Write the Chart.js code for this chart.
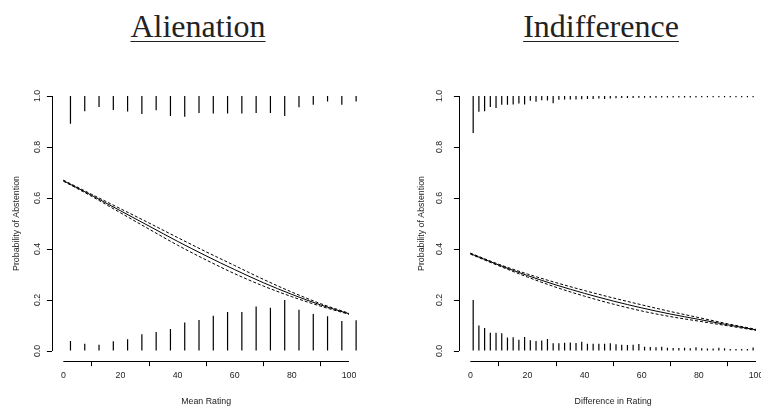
<!DOCTYPE html>
<html>
<head>
  <title>Probability of Abstention</title>
  <script src="https://cdn.jsdelivr.net/npm/chart.js"></script>
  <style>
    body { margin: 0; width: 761px; height: 409px; overflow: hidden; background: #fff; position: relative; }
    .panel { position: absolute; top: 0; }
    .heading {
      position: absolute; top: 10px;
      font-family: "Liberation Serif", serif; font-size: 32px; line-height: 32px;
      text-decoration: underline; text-decoration-thickness: 1px; text-underline-offset: 4px;
      transform: translateX(-50%); white-space: nowrap; color: #222;
    }
  </style>
</head>
<body>
  <div class="heading" style="left:198px">Alienation</div>
  <div class="heading" style="left:601px">Indifference</div>
  <canvas id="alienation-chart" class="panel" style="left:0" width="380" height="409"></canvas>
  <canvas id="indifference-chart" class="panel" style="left:407px" width="380" height="409"></canvas>

  <script>
    // axis ticks
    const xTicks = [0, 20, 40, 60, 80, 100];
    const yTicks = [0, 0.2, 0.4, 0.6, 0.8, 1.0];

    // Alienation: histogram spikes (abstainers hang from 1, voters rise from 0)
    const alienX = [2.5, 7.5, 12.5, 17.5, 22.5, 27.5, 32.5, 37.5, 42.5, 47.5, 52.5,
                    57.5, 62.5, 67.5, 72.5, 77.5, 82.5, 87.5, 92.5, 97.5, 102.5];
    const alienOnes = [0.891, 0.940, 0.957, 0.945, 0.939, 0.929, 0.944, 0.922, 0.919, 0.933, 0.931,
                       0.931, 0.931, 0.933, 0.933, 0.922, 0.956, 0.966, 0.978, 0.966, 0.978];
    const alienZeros = [0.039, 0.028, 0.025, 0.038, 0.046, 0.066, 0.075, 0.086, 0.112, 0.122, 0.138,
                        0.153, 0.153, 0.175, 0.170, 0.200, 0.162, 0.145, 0.136, 0.118, 0.121];

    // fitted curve and confidence band
    const curveX = [0, 10, 20, 30, 40, 50, 60, 70, 80, 90, 100];
    const alienFit   = [0.668, 0.610, 0.550, 0.490, 0.430, 0.373, 0.319, 0.268, 0.222, 0.181, 0.146];
    const alienUpper = [0.670, 0.614, 0.558, 0.502, 0.445, 0.389, 0.335, 0.281, 0.231, 0.186, 0.148];
    const alienLower = [0.666, 0.606, 0.542, 0.478, 0.415, 0.357, 0.303, 0.255, 0.213, 0.176, 0.144];

    // Indifference
    const indiffX = [1, 3, 5, 7, 9, 11, 13, 15, 17, 19, 21, 23, 25, 27, 29, 31, 33, 35, 37, 39,
                     41, 43, 45, 47, 49, 51, 53, 55, 57, 59, 61, 63, 65, 67, 69, 71, 73, 75, 77, 79,
                     81, 83, 85, 87, 89, 91, 93, 95, 97, 99];
    const indiffOnes = [0.855, 0.938, 0.940, 0.957, 0.953, 0.966, 0.966, 0.967, 0.971, 0.967,
                        0.981, 0.977, 0.983, 0.982, 0.972, 0.985, 0.986, 0.986, 0.986, 0.987,
                        0.988, 0.988, 0.990, 0.988, 0.990, 0.991, 0.992, 0.992, 0.992, 0.993,
                        0.993, 0.993, 0.993, 0.994, 0.994, 0.994, 0.994, 0.994, 0.994, 0.994,
                        0.995, 0.995, 0.995, 0.995, 0.995, 0.995, 0.995, 0.995, 0.995, 0.995];
    const indiffZeros = [0.200, 0.100, 0.090, 0.072, 0.072, 0.070, 0.053, 0.054, 0.044, 0.055,
                         0.042, 0.039, 0.041, 0.047, 0.030, 0.030, 0.032, 0.033, 0.031, 0.036,
                         0.028, 0.028, 0.028, 0.028, 0.030, 0.026, 0.025, 0.024, 0.025, 0.027,
                         0.017, 0.016, 0.015, 0.017, 0.013, 0.012, 0.012, 0.013, 0.011, 0.015,
                         0.011, 0.010, 0.010, 0.013, 0.011, 0.008, 0.008, 0.008, 0.008, 0.014];
    const indiffFit   = [0.382, 0.337, 0.296, 0.259, 0.226, 0.196, 0.169, 0.145, 0.124, 0.103, 0.083];
    const indiffUpper = [0.384, 0.340, 0.302, 0.268, 0.237, 0.208, 0.181, 0.155, 0.131, 0.107, 0.085];
    const indiffLower = [0.380, 0.334, 0.290, 0.250, 0.215, 0.184, 0.157, 0.135, 0.117, 0.099, 0.081];

    const labelFont = { family: 'Liberation Sans', size: 8.8 };
    const textColor = '#222';

    // R-style axis lines that only span the tick range
    const rAxes = {
      id: 'rAxes',
      afterDraw(chart) {
        const { ctx, chartArea, scales: { x, y } } = chart;
        const ax = Math.round(chartArea.left) + 0.5;
        const ay = Math.round(chartArea.bottom) + 0.5;
        ctx.save();
        ctx.strokeStyle = '#000';
        ctx.lineWidth = 1;
        ctx.beginPath();
        ctx.moveTo(x.getPixelForValue(xTicks[0]), ay);
        ctx.lineTo(x.getPixelForValue(xTicks[xTicks.length - 1]), ay);
        ctx.moveTo(ax, y.getPixelForValue(yTicks[0]));
        ctx.lineTo(ax, y.getPixelForValue(yTicks[yTicks.length - 1]));
        ctx.stroke();
        ctx.restore();
      }
    };

    function spikeData(xs, lows, highs) {
      return xs.map((x, i) => ({ x: x, y: [lows[i], highs[i]] }));
    }

    function curveData(ys) {
      return curveX.map((x, i) => ({ x: x, y: ys[i] }));
    }

    function makePanel(canvasId, xs, ones, zeros, fit, upper, lower, xTitle, tickPad, titlePad) {
      const spike = { type: 'bar', backgroundColor: '#000', barThickness: 1.2, inflateAmount: 0,
                      grouped: false, borderWidth: 0 };
      const line = { type: 'line', borderColor: '#000', borderWidth: 1, pointRadius: 0,
                     cubicInterpolationMode: 'monotone' };

      return new Chart(document.getElementById(canvasId), {
        type: 'bar',
        data: {
          datasets: [
            { ...spike, data: spikeData(xs, ones, ones.map(() => 1)) },
            { ...spike, data: spikeData(xs, zeros.map(() => 0), zeros) },
            { ...line, data: curveData(fit) },
            { ...line, data: curveData(upper), borderDash: [3, 2] },
            { ...line, data: curveData(lower), borderDash: [3, 2] }
          ]
        },
        options: {
          responsive: false,
          animation: false,
          layout: { padding: { left: 0, right: 19.6, top: 85.8, bottom: 0 } },
          plugins: { legend: { display: false }, tooltip: { enabled: false } },
          scales: {
            x: {
              type: 'linear', min: -4, max: 104, offset: false,
              afterBuildTicks: axis => { axis.ticks = xTicks.map(v => ({ value: v })); },
              afterFit: axis => { axis.height = 47.8; },
              grid: { drawOnChartArea: false, tickLength: 5, color: '#000', lineWidth: 1 },
              border: { display: false },
              ticks: { padding: 4, color: textColor, font: labelFont, maxRotation: 0, autoSkip: false,
                       callback: v => String(v) },
              title: { display: true, text: xTitle, color: textColor, font: labelFont,
                       padding: { top: 0, bottom: 2 } }
            },
            y: {
              type: 'linear', min: -0.04, max: 1.04,
              afterBuildTicks: axis => { axis.ticks = yTicks.map(v => ({ value: v })); },
              afterFit: axis => { axis.width = 51.9; },
              grid: { drawOnChartArea: false, tickLength: 5, color: '#000', lineWidth: 1 },
              border: { display: false },
              ticks: { padding: tickPad, crossAlign: 'center', minRotation: 90, maxRotation: 90,
                       color: textColor, font: labelFont, callback: v => v.toFixed(1) },
              title: { display: true, text: 'Probability of Abstention', color: textColor, font: labelFont,
                       padding: { top: titlePad, bottom: 0 } }
            }
          }
        },
        plugins: [rAxes]
      });
    }

    makePanel('alienation-chart', alienX, alienOnes, alienZeros,
              alienFit, alienUpper, alienLower, 'Mean Rating', 3, 11.4);
    makePanel('indifference-chart', indiffX, indiffOnes, indiffZeros,
              indiffFit, indiffUpper, indiffLower, 'Difference in Rating', 8, 9.3);
  </script>
</body>
</html>
